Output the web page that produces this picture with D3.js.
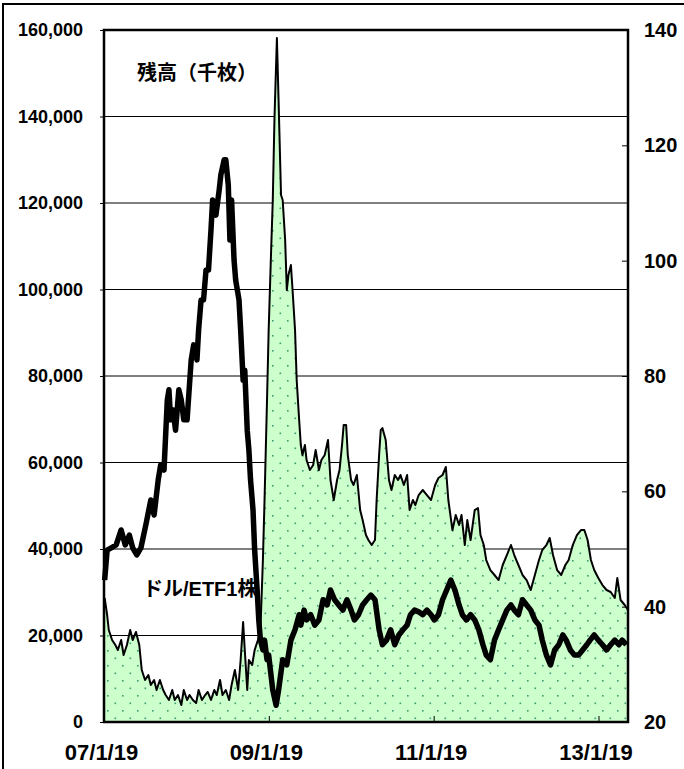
<!DOCTYPE html>
<html>
<head>
<meta charset="utf-8">
<script src="https://cdn.jsdelivr.net/npm/d3@7/dist/d3.min.js"></script>
<style>
  html, body { margin: 0; padding: 0; background: #fff; }
  svg { display: block; }
  text { font-family: "Liberation Sans", Arial, "Noto Sans CJK JP", sans-serif; font-weight: bold; fill: #000; }
</style>
</head>
<body>
<svg id="chart" width="684" height="769"></svg>
<script>
// ---- Data (time as decimal year) ----
// Shares outstanding (thousand shares), left axis
const sharesYears = [2007.06,2007.09,2007.11,2007.15,2007.19,2007.22,2007.26,2007.29,2007.33,2007.37,2007.40,2007.44,2007.48,2007.51,2007.55,2007.59,2007.62,2007.66,2007.69,2007.73,2007.77,2007.80,2007.84,2007.88,2007.91,2007.95,2007.99,2008.02,2008.06,2008.09,2008.13,2008.17,2008.20,2008.24,2008.28,2008.31,2008.35,2008.39,2008.42,2008.46,2008.49,2008.53,2008.57,2008.60,2008.64,2008.68,2008.71,2008.74,2008.76,2008.79,2008.81,2008.85,2008.88,2008.92,2008.95,2008.98,2009.00,2009.03,2009.05,2009.08,2009.10,2009.12,2009.15,2009.17,2009.20,2009.22,2009.25,2009.27,2009.29,2009.32,2009.34,2009.37,2009.39,2009.42,2009.44,2009.46,2009.49,2009.51,2009.55,2009.59,2009.62,2009.66,2009.69,2009.73,2009.77,2009.80,2009.84,2009.88,2009.91,2009.94,2009.96,2009.99,2010.01,2010.05,2010.08,2010.12,2010.16,2010.19,2010.23,2010.26,2010.30,2010.34,2010.36,2010.39,2010.41,2010.43,2010.47,2010.51,2010.54,2010.58,2010.62,2010.65,2010.69,2010.73,2010.76,2010.80,2010.83,2010.87,2010.92,2010.97,2011.02,2011.07,2011.11,2011.16,2011.20,2011.23,2011.28,2011.32,2011.36,2011.39,2011.43,2011.46,2011.50,2011.55,2011.59,2011.62,2011.66,2011.69,2011.74,2011.79,2011.84,2011.89,2011.94,2011.99,2012.03,2012.08,2012.13,2012.18,2012.23,2012.28,2012.33,2012.37,2012.42,2012.46,2012.50,2012.55,2012.60,2012.65,2012.69,2012.74,2012.79,2012.84,2012.88,2012.92,2012.96,2013.00,2013.05,2013.10,2013.15,2013.20,2013.25,2013.28,2013.32,2013.37,2013.41];
const sharesValues = [28670,24740,21270,18960,17800,16650,18960,15490,17800,21270,18960,20810,17800,12020,9710,10870,8550,9710,7400,9710,7400,6240,5090,7400,5090,6240,3930,7400,5090,6240,5090,4390,7400,5090,6240,6940,5090,7400,6240,9710,6240,7400,5090,8550,12020,7400,14330,23120,16650,7400,14330,13180,16650,18960,21270,37450,51330,74450,90630,109130,120690,139180,158140,143810,121840,120690,111440,99880,103350,105660,99880,90630,79070,69820,64040,61730,64040,60570,58260,59420,62890,58260,60570,61730,65200,55950,51330,55950,58260,64040,68670,68670,61730,55950,54790,57110,49010,46700,43230,42080,40920,42080,51330,61730,67510,67970,65200,55950,53640,57110,55950,57110,54790,57110,49010,51330,50170,52480,53640,52480,51330,54790,56410,57110,58960,51330,44390,47860,45550,47860,40920,46700,42080,49010,49480,43230,40920,37450,35140,33990,32830,36300,38610,40920,38610,36300,33990,32830,30520,33990,37450,39770,40920,42540,38610,35140,33990,36300,37450,40920,43230,44390,44390,42080,37450,35140,33290,31670,30520,30060,28670,33290,28210,27050,25890];

// Price (USD per ETF share), right axis
const priceYears = [2007.06,2007.09,2007.14,2007.20,2007.26,2007.31,2007.36,2007.40,2007.45,2007.50,2007.56,2007.62,2007.66,2007.71,2007.74,2007.78,2007.82,2007.84,2007.86,2007.89,2007.92,2007.96,2007.99,2008.02,2008.06,2008.11,2008.14,2008.18,2008.20,2008.23,2008.26,2008.29,2008.32,2008.35,2008.37,2008.41,2008.45,2008.47,2008.51,2008.53,2008.56,2008.58,2008.60,2008.63,2008.65,2008.69,2008.71,2008.74,2008.76,2008.79,2008.81,2008.83,2008.86,2008.88,2008.91,2008.93,2008.95,2008.98,2009.00,2009.03,2009.05,2009.10,2009.14,2009.17,2009.22,2009.27,2009.32,2009.37,2009.42,2009.44,2009.48,2009.51,2009.56,2009.61,2009.66,2009.71,2009.76,2009.80,2009.85,2009.90,2009.95,2010.00,2010.05,2010.09,2010.14,2010.19,2010.24,2010.29,2010.34,2010.39,2010.43,2010.48,2010.53,2010.58,2010.63,2010.68,2010.73,2010.77,2010.82,2010.87,2010.92,2010.97,2011.02,2011.06,2011.11,2011.16,2011.21,2011.26,2011.31,2011.36,2011.40,2011.45,2011.50,2011.55,2011.60,2011.65,2011.69,2011.74,2011.79,2011.84,2011.89,2011.94,2011.99,2012.03,2012.08,2012.13,2012.18,2012.23,2012.28,2012.33,2012.37,2012.42,2012.47,2012.52,2012.57,2012.62,2012.66,2012.71,2012.76,2012.81,2012.86,2012.91,2012.95,2013.00,2013.05,2013.10,2013.15,2013.20,2013.25,2013.30,2013.34,2013.39];
const priceValues = [44.6,49.8,50.2,50.7,53.3,50.7,52.4,50.2,49.0,50.2,54.2,58.5,55.9,62.0,64.6,63.7,75.8,77.6,72.4,74.1,70.6,77.6,75.8,72.4,72.4,82.8,85.4,82.8,88.0,93.2,93.2,98.4,98.4,105.3,110.5,107.9,112.3,114.9,117.5,117.5,113.1,103.6,110.5,100.1,96.6,93.2,88.0,79.3,81.0,70.6,67.2,62.0,56.8,49.8,42.9,37.7,34.2,32.5,34.2,30.8,31.6,25.5,22.9,25.5,30.8,29.9,34.2,36.0,38.6,36.8,39.4,37.7,38.6,36.8,37.7,41.2,40.3,42.9,41.2,40.3,39.4,41.2,39.4,37.7,38.6,40.3,41.2,42.0,41.2,36.0,33.4,34.2,36.0,33.4,35.1,36.0,36.8,38.6,39.4,39.1,38.6,39.4,38.6,37.7,38.6,41.2,42.9,44.6,42.9,40.3,38.6,37.7,38.6,37.7,36.0,33.4,31.6,30.8,34.2,36.0,37.7,39.4,40.3,39.4,38.6,41.2,40.3,39.4,37.7,36.8,34.2,31.6,29.9,32.5,33.4,35.1,34.2,32.5,31.6,31.6,32.5,33.4,34.2,35.1,34.2,33.4,32.5,33.4,34.2,33.4,34.2,33.4];

const leftTicks = [0,20000,40000,60000,80000,100000,120000,140000,160000];
const rightTicks = [20,40,60,80,100,120,140];
const xTickYears = [2007.052,2009.052,2011.052,2013.052];
const xTickLabels = ["07/1/19","09/1/19","11/1/19","13/1/19"];
const labelShares = "残高（千枚）";
const labelPrice = "ドル/ETF1株";

// ---- Layout ----
const L = 104, R = 628, T = 30, B = 722;
const svg = d3.select("#chart");

const x = d3.scaleLinear().domain([2007.052, 2013.41]).range([L, R]);
const yL = d3.scaleLinear().domain([0, 160000]).range([B, T]);
const yR = d3.scaleLinear().domain([20, 140]).range([B, T]);

// outer frame
svg.append("rect").attr("x", 3).attr("y", 4).attr("width", 700).attr("height", 800)
  .attr("fill", "none").attr("stroke", "#000").attr("stroke-width", 2);

// pattern
const defs = svg.append("defs");
const pat = defs.append("pattern").attr("id", "dots").attr("patternUnits", "userSpaceOnUse")
  .attr("width", 15).attr("height", 15).attr("x", L).attr("y", B);
pat.append("rect").attr("width", 15).attr("height", 15).attr("fill", "#ccffcc");
pat.append("rect").attr("x", 3).attr("y", 3).attr("width", 1.6).attr("height", 1.6).attr("fill", "#3d9c73");
pat.append("rect").attr("x", 10.5).attr("y", 10.5).attr("width", 1.6).attr("height", 1.6).attr("fill", "#3d9c73");

// gridlines
svg.append("g").selectAll("line").data(leftTicks.slice(1, -1)).join("line")
  .attr("x1", L).attr("x2", R).attr("y1", d => yL(d)).attr("y2", d => yL(d))
  .attr("stroke", "#000").attr("stroke-width", 1);

const shares = sharesYears.map((t, i) => ({ t, v: sharesValues[i] }));
const price = priceYears.map((t, i) => ({ t, v: priceValues[i] }));

svg.append("path").datum(shares)
  .attr("d", d3.area().x(d => x(d.t)).y0(B).y1(d => yL(d.v)))
  .attr("fill", "url(#dots)");
svg.append("path").datum(shares)
  .attr("d", d3.line().x(d => x(d.t)).y(d => yL(d.v)))
  .attr("fill", "none").attr("stroke", "#000").attr("stroke-width", 2).attr("stroke-linejoin", "round");
svg.append("path").datum(price)
  .attr("d", d3.line().x(d => x(d.t)).y(d => yR(d.v)))
  .attr("fill", "none").attr("stroke", "#000").attr("stroke-width", 5.5).attr("stroke-linejoin", "round");

// axes
const axL = svg.append("g").attr("transform", `translate(${L},0)`)
  .call(d3.axisLeft(yL).tickValues(leftTicks).tickSize(4).tickFormat(d3.format(",")));
const axR = svg.append("g").attr("transform", `translate(${R},0)`)
  .call(d3.axisRight(yR).tickValues(rightTicks).tickSize(-6).tickPadding(16));
const axB = svg.append("g").attr("transform", `translate(0,${B})`)
  .call(d3.axisBottom(x).tickValues(xTickYears).tickSize(-6).tickPadding(22)
    .tickFormat((d, i) => xTickLabels[i]));
[axL, axR, axB].forEach(g => {
  g.select(".domain").remove();
  g.selectAll("line").attr("stroke", "#000");
  g.selectAll("text").attr("fill", "#000").attr("font-family", null).attr("font-size", null);
});
axL.selectAll("text").style("font-size", "18px").attr("dx", "-14");
axR.selectAll("text").style("font-size", "20px");
axB.selectAll("text").style("font-size", "22px").attr("dx", "-3");

// plot border
svg.append("rect").attr("x", L).attr("y", T).attr("width", R - L).attr("height", B - T)
  .attr("fill", "none").attr("stroke", "#000").attr("stroke-width", 2.5);

// annotations
svg.append("text").attr("x", 137).attr("y", 80).style("font-size", "20px").text(labelShares);
svg.append("text").attr("x", 143).attr("y", 596).style("font-size", "20px").text(labelPrice);
</script>
</body>
</html>
